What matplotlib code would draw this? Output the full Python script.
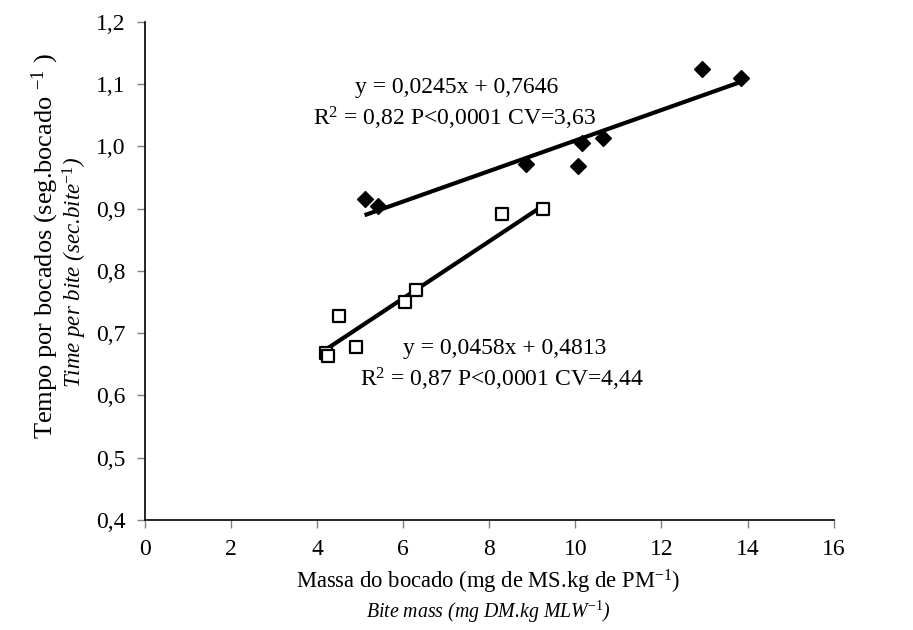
import numpy as np
import matplotlib
matplotlib.use("Agg")
import matplotlib.pyplot as plt

plt.rcParams.update({
    "font.family": ["Liberation Serif", "DejaVu Serif"],
    "mathtext.fontset": "custom",
    "mathtext.rm": "Liberation Serif",
    "mathtext.it": "Liberation Serif:italic",
})

# ---------------------------------------------------------------------------
# Data
# ---------------------------------------------------------------------------
# filled diamonds (upper series)
X_UP = [5.1, 5.4, 8.85, 10.05, 10.15, 10.65, 12.95, 13.85]
Y_UP = [0.915, 0.905, 0.972, 0.968, 1.005, 1.013, 1.125, 1.110]
COEF_UP = (0.0245, 0.7646)

# open squares (lower series)
X_LO = [4.2, 4.25, 4.5, 4.9, 6.05, 6.3, 8.3, 9.25]
Y_LO = [0.668, 0.664, 0.727, 0.678, 0.750, 0.770, 0.892, 0.900]
COEF_LO = (0.0458, 0.4813)

X_TICKS = [0, 2, 4, 6, 8, 10, 12, 14, 16]
Y_TICKS = [0.4, 0.5, 0.6, 0.7, 0.8, 0.9, 1.0, 1.1, 1.2]


def fmt(v):
    return f"{v:.1f}".replace(".", ",")


fig = plt.figure(figsize=(9.13, 6.30), dpi=100)
ax = fig.add_axes([0.159, 0.175, 0.754, 0.790])

ax.scatter(X_UP, Y_UP, marker="D", s=65, color="black", zorder=3)
ax.scatter(X_LO, Y_LO, marker="s", s=80, facecolor="white",
           edgecolor="black", linewidth=1.6, zorder=3)

for xs, (a, b) in ((X_UP, COEF_UP), (X_LO, COEF_LO)):
    xx = np.array([min(xs), max(xs)])
    ax.plot(xx, a * xx + b, color="black", lw=3, solid_capstyle="butt", zorder=2)

ax.text(7.25, 1.095, "y = 0,0245x + 0,7646", fontsize=17, ha="center", va="center")
ax.text(7.2, 1.045, r"R$^2$ = 0,82 P<0,0001 CV=3,63", fontsize=17, ha="center", va="center")
ax.text(6.0, 0.675, "y = 0,0458x + 0,4813", fontsize=17, ha="left", va="center")
ax.text(5.0, 0.625, r"R$^2$ = 0,87 P<0,0001 CV=4,44", fontsize=17, ha="left", va="center")

ax.set_xlim(0, 16)
ax.set_ylim(0.4, 1.2)
ax.set_xticks(X_TICKS)
ax.set_xticklabels([str(t) for t in X_TICKS], fontsize=17)
ax.set_yticks(Y_TICKS)
ax.set_yticklabels([fmt(t) for t in Y_TICKS], fontsize=17)
ax.tick_params(direction="out", length=6, width=1, color="#808080", pad=8)
for s in ("top", "right"):
    ax.spines[s].set_visible(False)
for s in ("left", "bottom"):
    ax.spines[s].set_linewidth(1.2)

fig.text(0.05, 0.61, r"Tempo por bocados (seg.bocado $^{-1}$ )", rotation=90,
         fontsize=19, ha="center", va="center")
fig.text(0.082, 0.568, r"Time per bite (sec.bite$^{-1}$)", rotation=90,
         fontsize=16.5, style="italic", ha="center", va="center")
fig.text(0.535, 0.076, r"Massa do bocado (mg de MS.kg de PM$^{-1}$)",
         fontsize=16.3, ha="center", va="center")
fig.text(0.535, 0.029, r"Bite mass (mg DM.kg MLW$^{-1}$)",
         fontsize=14.3, style="italic", ha="center", va="center")

fig.savefig("out.png", dpi=100)
